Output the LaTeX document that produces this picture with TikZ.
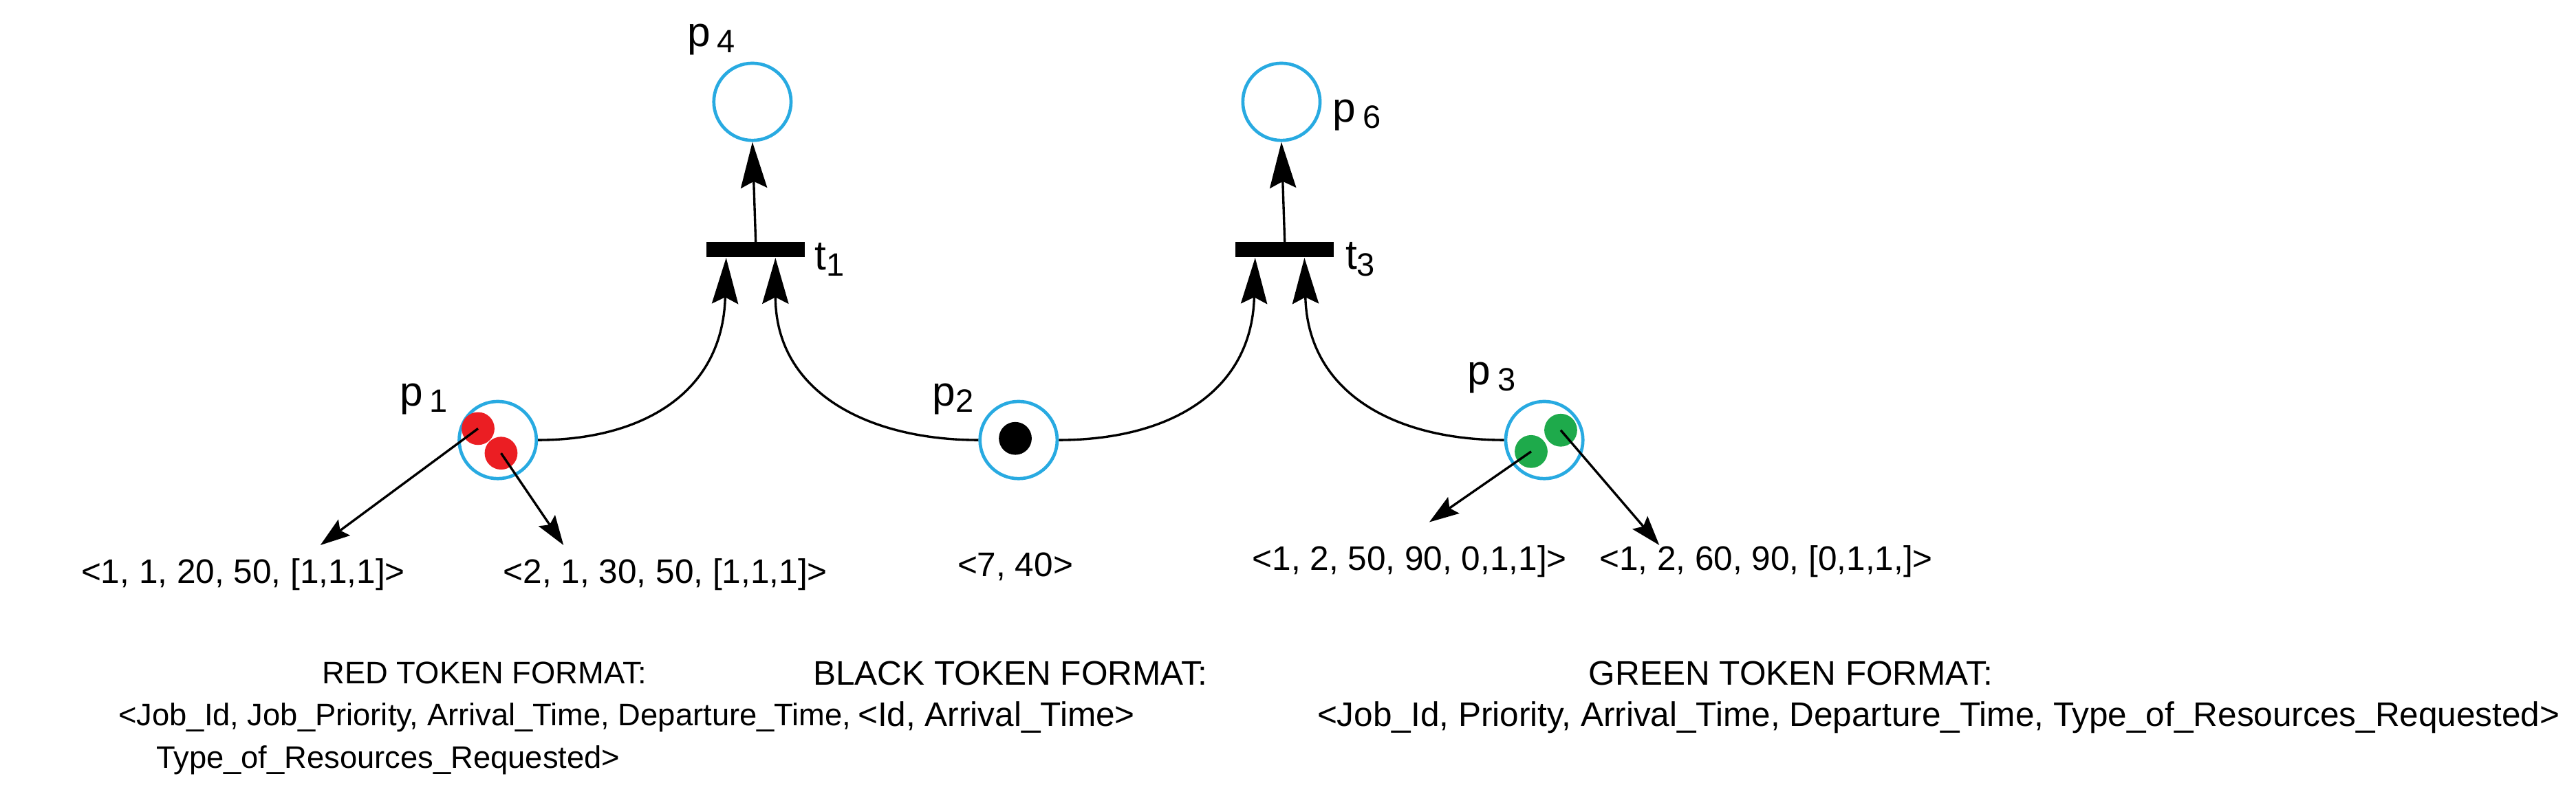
\documentclass[tikz,border=0pt]{standalone}
\usepackage{fontspec}
\setmainfont{Liberation Sans}
\usetikzlibrary{arrows.meta}
\definecolor{pblue}{RGB}{40,170,225}
\definecolor{tred}{RGB}{235,30,35}
\definecolor{tgreen}{RGB}{30,170,75}
\begin{document}
\begin{tikzpicture}[x=0.05cm,y=-0.05cm,
  place/.style={circle,draw=pblue,line width=2.8pt,minimum size=2.35cm,inner sep=0pt},
  trans/.style={fill=black,minimum width=3cm,minimum height=0.45cm,inner sep=0pt},
  tok/.style={circle,minimum size=1cm,inner sep=0pt},
  arc/.style={line width=2pt,-{Stealth[length=1.4cm,width=0.8cm,inset=0.2cm]}},
  sarc/.style={line width=2pt,-{Stealth[length=0.9cm,width=0.6cm,inset=0.15cm]}},
  lab/.style={font=\fontsize{36}{40}\selectfont},
  txt/.style={font=\fontsize{29.5}{34}\selectfont,inner sep=0pt},
  rtxt/.style={font=\fontsize{27}{32}\selectfont,inner sep=0pt}]
\useasboundingbox (0,0) rectangle (1568,490);
\node[place] (p4) at (458,62) {};
\node[place] (p6) at (780,62) {};
\node[trans] (t1) at (460,152) {};
\node[trans] (t3) at (782,152) {};
\node[place] (p1) at (303,268) {};
\node[place] (p2) at (620,268) {};
\node[place] (p3) at (940,268) {};
\node[lab] (lp4) at (433,24) {p\,\raisebox{-0.3ex}{\fontsize{28}{32}\selectfont 4}};
\node[lab] (lp6) at (826,70) {p\,\raisebox{-0.3ex}{\fontsize{28}{32}\selectfont 6}};
\node[lab] (lt1) at (505,158) {t\raisebox{-0.3ex}{\fontsize{28}{32}\selectfont 1}};
\node[lab] (lt3) at (828,158) {t\raisebox{-0.3ex}{\fontsize{28}{32}\selectfont 3}};
\node[lab] (lp1) at (258,243) {p\,\raisebox{-0.3ex}{\fontsize{28}{32}\selectfont 1}};
\node[lab] (lp2) at (580,243) {p\raisebox{-0.3ex}{\fontsize{28}{32}\selectfont 2}};
\node[lab] (lp3) at (908,230) {p\,\raisebox{-0.3ex}{\fontsize{28}{32}\selectfont 3}};
\node[tok,fill=black] (b) at (618,267) {};
\node[tok,fill=tred] (r1) at (291,261) {};
\node[tok,fill=tred] (r2) at (305,276) {};
\node[tok,fill=tgreen] (g1) at (932,275) {};
\node[tok,fill=tgreen] (g2) at (950,262) {};
\coordinate (t1a) at (442,157);
\coordinate (t1b) at (472,157);
\coordinate (t3a) at (764,157);
\coordinate (t3b) at (794,157);
\draw[arc] (t1.north) -- (p4.south);
\draw[arc] (t3.north) -- (p6.south);
\draw[arc] (p1.east) .. controls (390,268) and (440,240) .. (t1a);
\draw[arc] (p2.west) .. controls (530,268) and (472,240) .. (t1b);
\draw[arc] (p2.east) .. controls (710,268) and (762,240) .. (t3a);
\draw[arc] (p3.west) .. controls (850,268) and (796,240) .. (t3b);
\coordinate (e1) at (195,332);
\coordinate (e2) at (343,332);
\coordinate (e3) at (870,318);
\coordinate (e4) at (1010,332);
\draw[sarc] (r1.center) -- (e1);
\draw[sarc] (r2.center) -- (e2);
\draw[sarc] (g1.center) -- (e3);
\draw[sarc] (g2.center) -- (e4);
\node[txt] (s1) at (148,350) {<1, 1, 20, 50, [1,1,1]>};
\node[txt] (s2) at (405,350) {<2, 1, 30, 50, [1,1,1]>};
\node[txt] (s3) at (618,345) {<7, 40>};
\node[txt] (s4) at (858,342) {<1, 2, 50, 90, 0,1,1]>};
\node[txt] (s5) at (1075,342) {<1, 2, 60, 90, [0,1,1,]>};
\node[rtxt] (r0) at (295,410) {RED TOKEN FORMAT:};
\node[rtxt,anchor=west] (ra) at (72,437) {<Job\_Id, Job\_Priority, Arrival\_Time, Departure\_Time,};
\node[rtxt,anchor=west] (rb) at (95,463) {Type\_of\_Resources\_Requested>};
\node[txt] (k0) at (615,410) {BLACK TOKEN FORMAT:};
\node[txt,anchor=west] (ka) at (522,437) {<Id, Arrival\_Time>};
\node[txt] (g0) at (1090,410) {GREEN TOKEN FORMAT:};
\node[txt] (ga) at (1180,437) {<Job\_Id, Priority, Arrival\_Time, Departure\_Time, Type\_of\_Resources\_Requested>};
\end{tikzpicture}
\end{document}
